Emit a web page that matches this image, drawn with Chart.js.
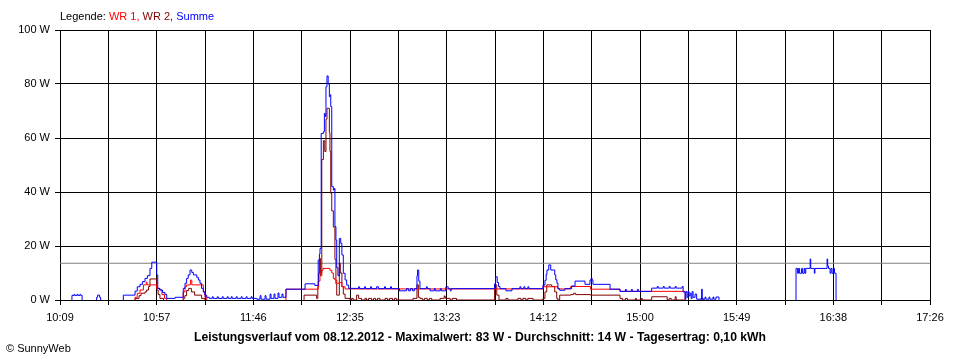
<!DOCTYPE html>
<html>
<head>
<meta charset="utf-8">
<script src="https://cdn.jsdelivr.net/npm/chart.js@4"></script>
<style>
  body { margin: 0; background: #fff; }
  #wrap { position: relative; width: 960px; height: 360px; font-family: "Liberation Sans", Arial, sans-serif; }
  #legend { position: absolute; left: 60px; top: 9px; font-size: 11px; line-height: 14px; white-space: nowrap; }
  #caption { position: absolute; left: 0; width: 960px; top: 330px; text-align: center; font-size: 12.2px; font-weight: bold; line-height: 14px; white-space: nowrap; }
  #copy { position: absolute; left: 6px; top: 341px; font-size: 11px; line-height: 14px; }
</style>
</head>
<body>
<div id="wrap">
  <canvas id="chart" width="960" height="360"></canvas>
  <div id="legend">Legende: <span style="color:#ff0000">WR 1,</span> <span style="color:#800000">WR 2,</span> <span style="color:#0000ff">Summe</span></div>
  <div id="caption">Leistungsverlauf vom 08.12.2012 - Maximalwert: 83 W - Durchschnitt: 14 W - Tagesertrag: 0,10 kWh</div>
  <div id="copy">© SunnyWeb</div>
</div>
<script>
// ------------------------------------------
// Daten: Minuten nach 10:09, Leistung in W
// ------------------------------------------
const tickLabels = ['10:09', '10:57', '11:46', '12:35', '13:23', '14:12', '15:00', '15:49', '16:38', '17:26'];
const spanMinutes = 437;   // 10:09 -> 17:26
const gridSteps = 18;
const yTicks = [0, 20, 40, 60, 80, 100];

const summe = [
    [6.0, 0], [6.0, 1.7], [7.0, 2.1], [7.4, 1.7], [8.6, 2.1], [9.0, 1.7], [10.0, 2.1], [10.4, 1.7], [11.1, 0], [11.2, null],
    [18.4, 0], [18.4, 1.0], [18.9, 1.8], [19.9, 1.0], [20.4, 0], [20.5, null],
    [31.8, 0], [31.8, 1.8], [37.7, 3.3], [38.8, 4.9], [40.2, 5.8], [41.4, 6.8], [42.7, 8.0], [43.9, 9.0], [45.2, 11.7], [46.1, 14.0],
    [48.6, 9.3], [49.1, 4.3], [50.2, 3.7], [51.5, 2.8], [52.7, 2.1], [53.6, 0.6], [57.8, 1.0],
    [61.9, 4.3], [62.8, 6.2], [63.6, 8.0], [64.4, 9.3], [65.3, 11.1], [66.2, 10.2], [67.0, 9.3], [68.7, 8.4], [69.5, 7.4], [70.3, 6.2],
    [71.1, 4.3], [72.0, 3.0], [72.8, 1.8], [73.7, 1.0],
    [75.0, 0.6], [76.5, 1.2], [77.0, 0.6], [79.0, 1.2], [79.5, 0.6], [81.5, 1.2], [82.0, 0.6], [84.0, 1.2], [84.5, 0.6], [86.0, 1.2],
    [86.5, 0.6], [88.5, 1.2], [89.0, 0.6], [91.0, 1.2], [91.5, 0.6], [93.5, 1.2], [94.0, 0.6], [96.0, 1.2], [96.5, 0.6], [98.8, 0.3],
    [100.5, 1.6], [101.0, 0.3], [103.0, 1.6], [103.5, 0.3], [105.5, 2.2], [106.0, 0.6], [107.5, 2.2], [108.0, 0.6], [109.5, 2.6],
    [110.0, 1.0], [111.5, 2.2], [112.0, 1.0], [113.5, 4.0],
    [123.1, 6.0], [128.0, 5.4], [129.7, 14.8], [130.3, 17.0], [130.6, 19.1], [131.2, 61.7], [132.3, 62.3], [132.8, 69.1], [133.2, 68.0],
    [133.6, 79.0], [134.1, 83.0], [134.7, 80.0], [135.3, 75.3], [135.6, 76.0], [136.0, 71.6], [136.5, 42.0], [137.3, 40.7], [137.8, 41.3],
    [138.1, 27.2], [138.6, 22.2], [139.0, 12.0], [139.6, 9.0], [140.3, 22.8], [141.0, 21.0], [141.6, 16.7], [142.3, 9.9], [143.2, 7.4],
    [144.0, 5.5], [145.0, 4.3],
    [150.0, 4.9], [150.5, 4.2], [153.0, 4.9], [153.5, 4.2], [156.0, 4.9], [156.5, 4.2], [159.0, 4.9], [160.0, 4.2], [163.0, 4.9],
    [163.5, 4.2], [166.0, 4.9], [166.5, 4.2], [170.5, 3.4], [174.0, 4.2], [175.0, 3.4], [176.0, 4.2], [177.0, 3.4], [178.0, 4.2],
    [179.3, 9.0], [179.6, 11.1], [180.2, 7.0], [180.8, 4.2], [184.0, 4.9], [184.5, 4.2], [185.9, 3.4], [188.0, 4.2], [188.5, 3.4],
    [191.0, 4.2], [191.5, 3.4], [193.8, 4.9], [195.0, 4.2], [196.0, 3.4], [196.5, 4.2],
    [218.3, 6.0], [218.8, 8.6], [219.6, 6.5], [220.3, 5.0], [221.0, 4.2], [224.0, 3.4], [227.0, 4.2], [231.0, 4.9], [231.5, 4.2],
    [233.0, 4.9], [233.5, 4.2], [235.0, 4.9], [235.5, 4.2],
    [242.6, 5.5], [243.6, 7.3], [244.2, 9.5], [244.6, 11.1], [245.5, 13.0], [246.5, 11.1], [248.5, 9.3], [249.0, 7.5], [249.6, 6.2],
    [250.1, 4.2], [251.0, 3.6], [253.6, 4.2],
    [257.0, 5.2], [258.7, 7.0], [263.7, 5.8], [266.2, 7.4], [266.8, 8.0], [267.3, 7.4], [267.7, 5.8], [276.3, 4.0], [281.3, 3.2],
    [284.0, 3.9], [284.5, 3.2], [287.0, 3.9], [287.5, 3.2], [290.0, 3.9], [290.5, 3.2],
    [297.2, 4.4], [300.0, 5.0], [300.5, 4.4], [303.0, 5.0], [303.5, 4.4], [306.0, 5.0], [306.5, 4.4], [309.0, 5.0], [309.5, 4.4],
    [312.5, 5.0], [313.0, 3.0], [314.0, 0.3], [314.4, 3.1], [315.0, 1.0], [315.5, 3.1], [316.0, 1.5], [316.5, 2.5], [317.0, 0.5],
    [317.5, 3.1], [318.0, 1.0], [319.0, 2.2], [319.8, 0.3], [322.3, 4.0], [322.6, 0.3], [324.0, 1.1], [324.4, 0.3], [326.0, 1.1],
    [326.4, 0.3], [328.0, 1.1], [328.4, 0.3], [329.5, 1.1], [331.0, 0], [331.1, null],
    [369.7, 0], [369.7, 11.7], [370.5, 9.9], [371.0, 11.7], [371.5, 9.9], [372.5, 11.7], [373.0, 9.9], [373.8, 11.7], [374.2, 9.9],
    [374.6, 11.7], [376.8, 15.2], [377.1, 11.7], [378.9, 9.9], [379.2, 11.7], [385.3, 15.2], [385.6, 12.6], [386.0, 11.7], [386.8, 9.9],
    [387.3, 11.7], [387.8, 9.9], [388.5, 11.7], [389.0, 9.9], [389.8, 0]
];

const wr1 = [
    [37.7, 0], [37.7, 1.0], [38.8, 2.5], [40.2, 3.7], [41.9, 5.6], [43.3, 6.6], [43.7, 5.6], [48.6, 4.3], [50.0, 3.7], [51.2, 2.0],
    [52.5, 0.6], [53.6, 0], [53.7, null],
    [61.9, 0], [61.9, 3.0], [62.8, 4.9], [63.6, 5.6], [65.5, 7.4], [66.2, 5.6], [72.0, 3.0], [72.8, 1.0], [73.7, 0], [73.8, null],
    [113.5, 0], [113.5, 4.0], [129.7, 7.0], [130.6, 9.9], [131.5, 11.0], [132.1, 11.7], [135.6, 11.0], [136.5, 10.0], [137.3, 8.0],
    [138.1, 7.4], [139.0, 6.2], [140.3, 6.5], [141.6, 4.9], [143.2, 4.1],
    [242.6, 4.9], [250.1, 4.1], [256.5, 5.0], [266.5, 4.0], [281.3, 3.2], [314.0, 0], [314.1, null]
];

const wr2 = [
    [37.7, 0], [37.7, 0.6], [39.7, 1.6], [40.7, 2.5], [42.7, 3.0], [43.5, 3.7], [44.5, 5.0], [45.2, 7.8], [48.6, 3.7], [49.3, 2.0],
    [50.2, 0.6], [52.0, 0], [52.1, null],
    [61.9, 0], [61.9, 0.6], [62.7, 1.6], [63.6, 3.5], [64.6, 4.3], [66.0, 3.0], [67.6, 1.8], [71.1, 0.6], [72.8, 0], [72.9, null],
    [122.6, 0], [122.6, 1.8], [128.9, 0.6], [129.5, 4.9], [129.9, 9.9], [130.4, 15.4], [130.8, 9.0], [131.5, 52.0], [132.3, 59.0],
    [133.0, 55.0], [133.6, 67.0], [134.1, 71.0], [135.3, 62.0], [135.6, 55.0], [136.0, 39.5], [136.5, 33.0], [137.3, 27.0],
    [138.1, 15.0], [138.6, 6.0], [139.0, 1.8], [140.3, 13.6], [140.8, 10.0], [141.6, 5.0], [142.3, 2.2], [143.2, 0.6],
    [145.7, 0], [146.5, 0.6], [147.3, 0], [149.0, 1.8], [150.0, 0.6], [151.5, 0], [153.2, 0.6], [154.0, 0], [155.0, 0.6], [156.5, 0],
    [157.5, 0.6], [158.5, 0], [159.5, 0.6], [160.7, 0], [163.3, 0.6], [164.5, 0], [165.5, 0.6], [167.0, 0], [168.0, 0.6], [169.1, 0],
    [177.3, 0.6], [179.3, 5.6], [180.0, 1.0], [180.8, 0.6], [182.0, 0], [183.0, 0.6], [184.5, 0], [185.5, 0.6], [186.7, 0],
    [190.9, 0.6], [193.0, 1.5], [193.5, 0.6], [196.0, 0], [197.0, 0.6], [199.2, 0],
    [218.3, 5.6], [219.4, 1.8], [220.5, 0], [224.0, 0.6], [225.0, 0], [230.0, 0.6], [231.5, 0], [232.5, 0.6], [234.0, 0],
    [235.0, 0.6], [237.6, 0], [242.6, 0.6], [243.6, 3.0], [244.5, 5.6], [247.0, 5.0], [248.5, 3.0], [249.5, 0.6], [250.1, 0],
    [251.0, 1.8], [256.5, 2.0], [258.0, 2.5], [259.0, 2.0], [266.5, 1.8], [281.3, 0.6], [282.5, 0], [284.0, 0.6], [285.0, 0],
    [289.0, 0.6], [289.5, 0], [292.0, 0.6], [292.5, 0], [297.2, 1.2], [305.0, 0], [306.0, 0.6], [307.0, 0], [309.0, 1.2], [309.5, 0],
    [314.0, 0], [314.1, null], [322.0, 0], [322.0, 0.6], [323.0, 0], [323.1, null]
];

const durchschnitt = [[0, 13.6], [spanMinutes, 13.6]];

// ------------------------------------------
// Chart
// ------------------------------------------
const toPoints = arr => arr.map(p => ({ x: p[0], y: p[1] }));
const gridTicks = [];
for (let i = 0; i <= gridSteps; i++) gridTicks.push({ value: i * spanMinutes / gridSteps });

const font = { family: '"Liberation Sans", Arial, sans-serif', size: 11 };

function lineSet(label, data, color, order) {
    return {
        label: label,
        data: toPoints(data),
        borderColor: color,
        backgroundColor: color,
        borderWidth: 1,
        pointRadius: 0,
        stepped: true,
        spanGaps: false,
        order: order
    };
}

new Chart(document.getElementById('chart'), {
    type: 'line',
    data: {
        datasets: [
            lineSet('Summe', summe, '#0000ff', 0),
            lineSet('WR 1', wr1, '#ff0000', 1),
            lineSet('WR 2', wr2, '#800000', 2),
            Object.assign(lineSet('Durchschnitt', durchschnitt, '#808080', 3), { stepped: false })
        ]
    },
    options: {
        responsive: false,
        animation: false,
        events: [],
        layout: { padding: { left: 0, top: 30, right: 30, bottom: 0 } },
        plugins: { legend: { display: false }, tooltip: { enabled: false }, title: { display: false } },
        scales: {
            x: {
                type: 'linear',
                min: 0,
                max: spanMinutes,
                z: 1,
                afterFit: scale => { scale.height = 60; },
                afterBuildTicks: scale => { scale.ticks = gridTicks.map(t => ({ value: t.value })); },
                grid: { color: '#000', lineWidth: 1, tickLength: 5, tickColor: '#000' },
                border: { color: '#000', width: 1 },
                ticks: {
                    autoSkip: false,
                    maxRotation: 0,
                    padding: 6,
                    color: '#000',
                    font: font,
                    callback: (value, index) => index % 2 === 0 ? tickLabels[index / 2] : ''
                }
            },
            y: {
                min: 0,
                max: 100,
                afterFit: scale => { scale.width = 60; },
                afterBuildTicks: scale => { scale.ticks = yTicks.map(v => ({ value: v })); },
                grid: { color: '#000', lineWidth: 1, tickLength: 5, tickColor: '#000' },
                border: { color: '#000', width: 1 },
                ticks: { padding: 5, color: '#000', font: font, callback: v => v + ' W' }
            }
        }
    }
});
</script>
</body>
</html>
